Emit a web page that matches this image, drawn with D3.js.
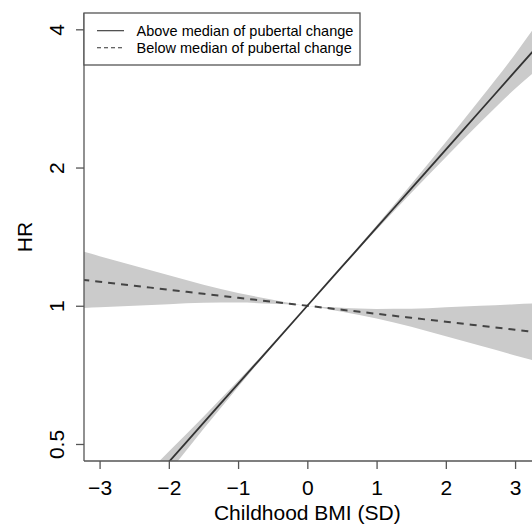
<!DOCTYPE html>
<html>
<head>
<meta charset="utf-8">
<script src="https://cdn.jsdelivr.net/npm/d3@7"></script>
<style>
  body { margin: 0; background: #fff; }
  svg { display: block; font-family: "Liberation Sans", Arial, Helvetica, sans-serif; }
</style>
</head>
<body>
<div id="chart"></div>
<script>
// childhood BMI (SD) grid
var bmi = [-3.25, -3, -2.5, -2, -1.5, -1, -0.5, 0, 0.5, 1, 1.5, 2, 2.5, 3, 3.25];

// above median of pubertal change: HR and 95% CI
var aboveFit = [0.2801, 0.3088, 0.3757, 0.4569, 0.5557, 0.6758, 0.8221, 1, 1.2163, 1.4794, 1.7994, 2.1886, 2.6619, 3.2381, 3.5707];
var aboveLo  = [0.2438, 0.2765, 0.3481, 0.4337, 0.5387, 0.6657, 0.8176, 1, 1.2113, 1.4641, 1.7599, 2.1068, 2.5096, 2.9690, 3.2027];
var aboveHi  = [0.3218, 0.3451, 0.4054, 0.4813, 0.5734, 0.6864, 0.8267, 1, 1.2214, 1.4948, 1.8397, 2.2736, 2.8236, 3.5308, 3.9813];

// below median of pubertal change: HR and 95% CI
var belowFit = [1.1396, 1.1282, 1.1058, 1.0837, 1.0622, 1.0410, 1.0203, 1, 0.9801, 0.9606, 0.9415, 0.9228, 0.9044, 0.8864, 0.8775];
var belowLo  = [0.9886, 0.9924, 1.0000, 1.0077, 1.0154, 1.0160, 1.0098, 1, 0.9700, 0.9376, 0.9000, 0.8579, 0.8179, 0.7797, 0.7613];
var belowHi  = [1.3136, 1.2825, 1.2226, 1.1656, 1.1111, 1.0666, 1.0310, 1, 0.9903, 0.9842, 0.9849, 0.9924, 1.0000, 1.0077, 1.0115];

var xTicks = [-3, -2, -1, 0, 1, 2, 3];
var yTicks = [0.5, 1, 2, 4];
var legendLabels = ["Above median of pubertal change", "Below median of pubertal change"];

var width = 532, height = 525;
var pLeft = 84, pTop = 13, pRight = 549.7, pBottom = 461;

var svg = d3.select("#chart")
    .append("svg")
    .attr("width", width)
    .attr("height", height);

var x = d3.scaleLinear()
    .domain([-3.225, 3.5])
    .range([pLeft, pRight]);

var y = d3.scaleLog()
    .base(2)
    .domain([0.4591, 4.341])
    .range([pBottom, pTop]);

svg.append("clipPath")
    .attr("id", "plotclip")
    .append("rect")
    .attr("x", pLeft)
    .attr("y", pTop)
    .attr("width", pRight - pLeft)
    .attr("height", pBottom - pTop);

var plot = svg.append("g").attr("clip-path", "url(#plotclip)");

function rows(fit, lo, hi) {
    return bmi.map(function(d, i) {
        return { x: d, fit: fit[i], lo: lo[i], hi: hi[i] };
    });
}

var above = rows(aboveFit, aboveLo, aboveHi);
var below = rows(belowFit, belowLo, belowHi);

var band = d3.area()
    .curve(d3.curveMonotoneX)
    .x(function(d) { return x(d.x) })
    .y0(function(d) { return y(d.lo) })
    .y1(function(d) { return y(d.hi) });

var line = d3.line()
    .curve(d3.curveMonotoneX)
    .x(function(d) { return x(d.x) })
    .y(function(d) { return y(d.fit) });

plot.append("path")
    .attr("d", band(below))
    .attr("fill", "#cbcbcb");

plot.append("path")
    .attr("d", band(above))
    .attr("fill", "#cbcbcb");

plot.append("path")
    .attr("d", line(below))
    .attr("fill", "none")
    .attr("stroke", "#444")
    .attr("stroke-width", 2)
    .attr("stroke-dasharray", "7,6");

plot.append("path")
    .attr("d", line(above))
    .attr("fill", "none")
    .attr("stroke", "#333")
    .attr("stroke-width", 1.8);

// box lines (left and bottom)
svg.append("line")
    .attr("x1", pLeft).attr("x2", pLeft)
    .attr("y1", pTop).attr("y2", pBottom)
    .attr("stroke", "#555").attr("stroke-width", 1.3);
svg.append("line")
    .attr("x1", pLeft).attr("x2", width + 10)
    .attr("y1", pBottom).attr("y2", pBottom)
    .attr("stroke", "#555").attr("stroke-width", 1.3);

// x axis
var xAxis = svg.append("g")
    .attr("transform", "translate(0," + pBottom + ")")
    .call(d3.axisBottom(x)
        .tickValues(xTicks)
        .tickSize(8)
        .tickFormat(function(d) { return d < 0 ? "\u2212" + Math.abs(d) : d }));
xAxis.select(".domain").remove();
xAxis.selectAll(".tick line").attr("stroke", "#555").attr("stroke-width", 1.3);
xAxis.selectAll(".tick text")
    .attr("font-size", 21)
    .attr("font-family", null)
    .attr("fill", "#000")
    .attr("dy", null)
    .attr("y", 34);

// y axis
var yAxis = svg.append("g")
    .attr("transform", "translate(" + pLeft + ",0)")
    .call(d3.axisLeft(y)
        .tickValues(yTicks)
        .tickSize(8)
        .tickFormat(function(d) { return d }));
yAxis.select(".domain").remove();
yAxis.selectAll(".tick line").attr("stroke", "#555").attr("stroke-width", 1.3);
yAxis.selectAll(".tick text")
    .attr("font-size", 21)
    .attr("font-family", null)
    .attr("fill", "#000")
    .attr("x", null)
    .attr("dy", null)
    .attr("text-anchor", "middle")
    .attr("transform", "translate(-20,0) rotate(-90)");

// axis titles
svg.append("text")
    .attr("x", x(0))
    .attr("y", 520)
    .attr("text-anchor", "middle")
    .attr("font-size", 21)
    .text("Childhood BMI (SD)");

svg.append("text")
    .attr("transform", "translate(31.5," + ((pTop + pBottom) / 2) + ") rotate(-90)")
    .attr("text-anchor", "middle")
    .attr("font-size", 21)
    .text("HR");

// legend
var legend = svg.append("g");
legend.append("rect")
    .attr("x", pLeft)
    .attr("y", pTop)
    .attr("width", 360 - pLeft)
    .attr("height", 65 - pTop)
    .attr("fill", "#fff")
    .attr("stroke", "#555")
    .attr("stroke-width", 1.3);

legend.selectAll("line.key")
    .data(legendLabels)
    .enter()
    .append("line")
    .attr("class", "key")
    .attr("x1", 97).attr("x2", 124)
    .attr("y1", function(d, i) { return 30.7 + i * 17 })
    .attr("y2", function(d, i) { return 30.7 + i * 17 })
    .attr("stroke", "#333")
    .attr("stroke-width", 1.1)
    .attr("stroke-dasharray", function(d, i) { return i == 1 ? "4,3" : null });

legend.selectAll("text.key")
    .data(legendLabels)
    .enter()
    .append("text")
    .attr("class", "key")
    .attr("x", 136.5)
    .attr("y", function(d, i) { return 36 + i * 17 })
    .attr("font-size", 14.5)
    .text(function(d) { return d });
</script>
</body>
</html>
